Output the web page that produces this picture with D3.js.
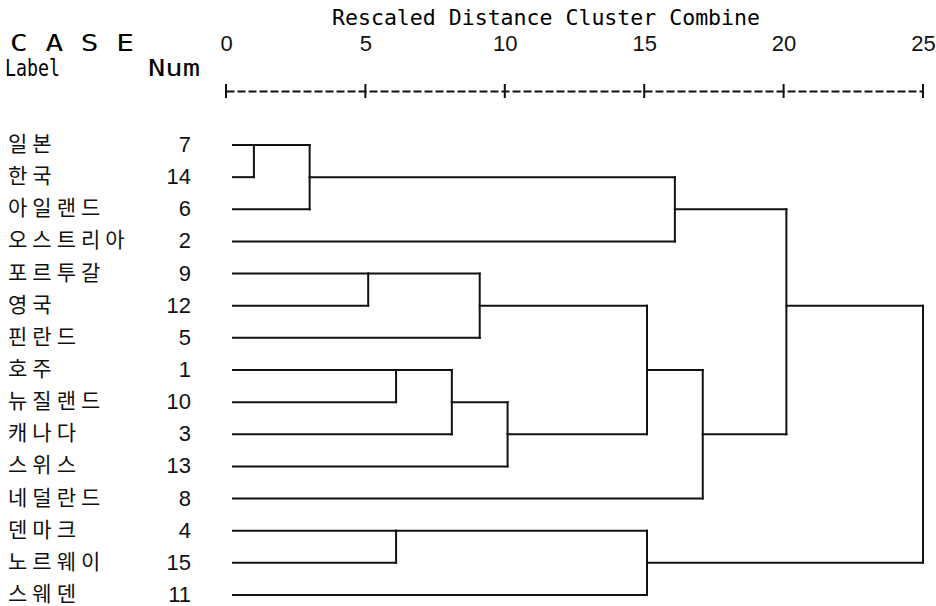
<!DOCTYPE html>
<html>
<head>
<meta charset="utf-8">
<script src="https://cdn.jsdelivr.net/npm/d3@7"></script>
<style>
  body { margin: 0; background: #fff; }
  svg { display: block; }
</style>
</head>
<body>
<div id="chart"></div>
<script>
// Dendrogram (SPSS style), case order as drawn top to bottom
const width = 936;
const height = 606;

const caseLabels = ["일본", "한국", "아일랜드", "오스트리아", "포르투갈", "영국", "핀란드", "호주",
                    "뉴질랜드", "캐나다", "스위스", "네덜란드", "덴마크", "노르웨이", "스웨덴"];
const caseNums = [7, 14, 6, 2, 9, 12, 5, 1, 10, 3, 13, 8, 4, 15, 11];

// agglomeration schedule: cluster (named by its top case) joined with another, rescaled distance
const mergeA = [7, 7, 9, 1, 4, 1, 9, 1, 9, 4, 7, 9, 7, 7];
const mergeB = [14, 6, 12, 10, 15, 3, 5, 13, 1, 11, 2, 8, 9, 4];
const mergeDist = [1.0, 3.0, 5.1, 6.1, 6.1, 8.1, 9.1, 10.1, 15.1, 15.1, 16.1, 17.1, 20.1, 25];

const tickValues = [0, 5, 10, 15, 20, 25];

const svg = d3.select("#chart").append("svg")
  .attr("width", width)
  .attr("height", height);

const x = d3.scaleLinear().domain([0, 25]).range([226, 923]);
const y = d3.scalePoint().domain(d3.range(caseNums.length)).range([145, 595]);
const leafGap = 7;

// header text
svg.append("text")
  .attr("x", 332).attr("y", 25)
  .attr("font-family", "DejaVu Sans Mono")
  .attr("font-size", 22)
  .attr("textLength", 428)
  .attr("lengthAdjust", "spacingAndGlyphs")
  .text("Rescaled Distance Cluster Combine");

svg.append("text")
  .attr("x", 10).attr("y", 51)
  .attr("font-family", "DejaVu Sans Mono")
  .attr("font-size", 23)
  .attr("textLength", 124)
  .attr("lengthAdjust", "spacingAndGlyphs")
  .text("C A S E");

svg.append("text")
  .attr("x", 5).attr("y", 76)
  .attr("font-family", "DejaVu Sans Mono")
  .attr("font-size", 23)
  .attr("textLength", 55)
  .attr("lengthAdjust", "spacingAndGlyphs")
  .text("Label");

svg.append("text")
  .attr("x", 148).attr("y", 76)
  .attr("font-family", "DejaVu Sans Mono")
  .attr("font-size", 23)
  .attr("textLength", 52)
  .attr("lengthAdjust", "spacingAndGlyphs")
  .text("Num");

// axis: dashed line with + marks
const axisY = 91;
const axis = svg.append("g")
  .attr("transform", `translate(0,${axisY})`)
  .call(d3.axisTop(x).tickValues(tickValues).tickSize(0).tickPadding(40).tickSizeOuter(0));
axis.select(".domain")
  .attr("stroke", "#111")
  .attr("stroke-width", 2)
  .attr("stroke-dasharray", "8 3");
axis.selectAll(".tick text")
  .attr("font-family", "Liberation Sans")
  .attr("font-size", 22)
  .attr("fill", "#111");

svg.selectAll(".plus")
  .data(tickValues)
  .enter()
  .append("line")
  .attr("class", "plus")
  .attr("x1", d => x(d)).attr("x2", d => x(d))
  .attr("y1", axisY - 7).attr("y2", axisY + 7)
  .attr("stroke", "#111")
  .attr("stroke-width", 2);

// row labels
svg.selectAll(".lab")
  .data(caseLabels)
  .enter()
  .append("text")
  .attr("class", "lab")
  .attr("x", 8)
  .attr("y", (d, i) => y(i) + 6)
  .attr("font-family", "Noto Sans CJK KR")
  .attr("font-size", 21)
  .attr("letter-spacing", 5)
  .attr("fill", "#111")
  .text(d => d);

svg.selectAll(".num")
  .data(caseNums)
  .enter()
  .append("text")
  .attr("class", "num")
  .attr("x", 191)
  .attr("y", (d, i) => y(i) + 7)
  .attr("text-anchor", "end")
  .attr("font-family", "Liberation Sans")
  .attr("font-size", 22)
  .attr("fill", "#111")
  .text(d => d);

// build the tree segments
const state = {};
caseNums.forEach((c, i) => { state[c] = {row: i, px: x(0) + leafGap}; });

const segs = [];
mergeA.forEach((a, k) => {
  const b = mergeB[k];
  const xm = x(mergeDist[k]);
  const sa = state[a], sb = state[b];
  segs.push([sa.px, y(sa.row), xm, y(sa.row)]);
  segs.push([sb.px, y(sb.row), xm, y(sb.row)]);
  segs.push([xm, y(sa.row), xm, y(sb.row)]);
  state[a] = {row: Math.floor((sa.row + sb.row) / 2), px: xm};
  delete state[b];
});

svg.selectAll(".seg")
  .data(segs)
  .enter()
  .append("line")
  .attr("class", "seg")
  .attr("x1", d => d[0]).attr("y1", d => d[1])
  .attr("x2", d => d[2]).attr("y2", d => d[3])
  .attr("stroke", "#111")
  .attr("stroke-width", 2)
  .attr("stroke-linecap", "square");
</script>
</body>
</html>
